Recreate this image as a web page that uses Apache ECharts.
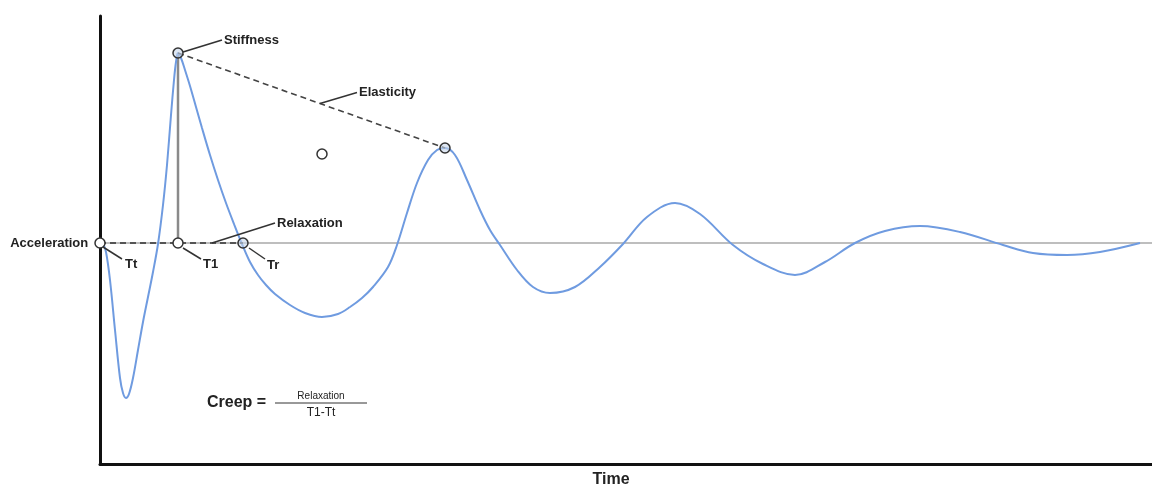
<!DOCTYPE html>
<html>
<head>
<meta charset="utf-8">
<script src="https://cdn.jsdelivr.net/npm/echarts@6/dist/echarts.min.js"></script>
<style>
html,body{margin:0;padding:0;background:#fff;}
#chart{width:1152px;height:486px;}
</style>
</head>
<body>
<div id="chart"></div>
<script>
// ---- data (time units, acceleration units) ----
const time  = [0,3,6,10,15,20,23,26,29,33,
               38,43,48,53,58,63,67,71,74,76,
               78,81,85,90,96,102,110,118,126,134,
               142,150,158,166,175,190,
               205,222,238,250,262,273,288,297,307,317,
               328,337,345,355,367,380,390,400,417,433,
               450,475,500,523,
               547,575,600,633,663,695,725,755,785,820,
               860,903,933,967,1000,1040];
const accel = [0,-1,-9,-37,-87,-135,-150,-155,-151,-135,
               -107,-79,-54,-29,-1,38,78,128,163,181,
               190,185,173,157,136,115,88,63,40,19,
               -1,-19,-32,-42,-51,-62,
               -70,-74,-71,-64,-55,-44,-24,-2,30,60,
               83,93,95,88,63,33,13,-2,-27,-44,
               -50,-44,-24,-1,
               26,40,29,-2,-21,-32,-19,0,12,17,
               11,-2,-10,-12,-9,0];

// key events
const tT = 0;        // Tt
const t1 = 78;       // T1 (stiffness peak time)
const tR = 143;      // Tr
const peak1 = [78, 190];
const peak2 = [345, 95];
const loneMarker = [222, 89];

const markerX = [tT, t1, tR, peak1[0], peak2[0], loneMarker[0]];
const markerY = [0, 0, 0, peak1[1], peak2[1], loneMarker[1]];

const timeMax = 1052;
const accelMin = -221, accelMax = 227;

// annotation labels
const annNames = ['Stiffness', 'Elasticity', 'Relaxation', 'Tt', 'T1', 'Tr'];
const elastX = 220;
const elastY = peak1[1] + (peak2[1] - peak1[1]) * (elastX - peak1[0]) / (peak2[0] - peak1[0]);
const annX = [peak1[0], elastX, 112, tT, t1, tR];
const annY = [peak1[1], elastY, 0, 0, 0, 0];

// ---- styling (pixel offsets of leader lines) ----
const leaderStyle = {
  Stiffness:  {s:[5,-1],  e:[44,-13], t:[46,-13]},
  Elasticity: {s:[0,0],   e:[37,-11], t:[39,-11]},
  Relaxation: {s:[0,0],   e:[63,-20], t:[65,-20]},
  Tt:         {s:[3,4],   e:[22,16],  t:[25,21]},
  T1:         {s:[5,5],   e:[23,16],  t:[25,21]},
  Tr:         {s:[6,5],   e:[22,16],  t:[24,22]}
};

const chart = echarts.init(document.getElementById('chart'));
const textColor = '#222';
const labelFont = 'bold 13px "Liberation Sans"';

const option = {
  animation: false,
  backgroundColor: '#fff',
  grid: {left: 100, right: 0, top: 16, bottom: 22, outerBoundsMode: 'none', containLabel: false},
  xAxis: {
    type: 'value', min: 0, max: timeMax,
    name: 'Time', nameLocation: 'middle', nameGap: 8,
    nameTextStyle: {fontFamily: 'Liberation Sans', fontWeight: 'bold', fontSize: 16, color: textColor, padding: [0, 30, 0, 0]},
    axisLine: {show: true, onZero: false, lineStyle: {color: '#111', width: 3}},
    axisTick: {show: false}, axisLabel: {show: false}, splitLine: {show: false}
  },
  yAxis: {
    type: 'value', min: accelMin, max: accelMax,
    axisLine: {show: true, lineStyle: {color: '#111', width: 3}},
    axisTick: {show: false}, axisLabel: {show: false}, splitLine: {show: false}
  },
  series: [
    { // baseline
      type: 'line', z: 1, silent: true, showSymbol: false,
      data: [[0, 0], [timeMax, 0]],
      lineStyle: {color: '#a8a8a8', width: 1.5}
    },
    { // vertical stiffness line
      type: 'line', z: 2, silent: true, showSymbol: false,
      data: [[t1, 0], peak1],
      lineStyle: {color: '#8a8a8a', width: 2.5}
    },
    { // acceleration curve
      type: 'line', z: 3, showSymbol: false, smooth: 0.35,
      data: time.map((t, i) => [t, accel[i]]),
      lineStyle: {color: '#6f9be0', width: 2}
    },
    { // dashed relaxation line
      type: 'line', z: 4, silent: true, showSymbol: false,
      data: [[tT, 0], [tR, 0]],
      lineStyle: {color: '#333', width: 1.6, type: [6, 4]}
    },
    { // dashed elasticity line
      type: 'line', z: 4, silent: true, showSymbol: false,
      data: [peak1, peak2],
      lineStyle: {color: '#444', width: 1.6, type: [6, 4]}
    },
    { // markers
      type: 'scatter', z: 5, symbol: 'circle', symbolSize: 10,
      data: markerX.map((x, i) => {
        const item = {value: [x, markerY[i]]};
        if (i === 0) {
          item.label = {show: true, position: 'left', distance: 6, formatter: 'Acceleration',
            fontFamily: 'Liberation Sans', fontWeight: 'bold', fontSize: 13, color: textColor, opacity: 1};
        }
        if (i === 2 || i === 3 || i === 4) {
          item.itemStyle = {color: 'rgba(200,215,235,0.6)'};
        }
        return item;
      }),
      itemStyle: {color: '#fff', borderColor: '#333', borderWidth: 1.5, opacity: 1},
      emphasis: {disabled: true}
    },
    { // annotation leaders + labels
      type: 'custom', z: 6, silent: true,
      data: annX.map((x, i) => [x, annY[i], i]),
      renderItem: function (params, api) {
        const p = api.coord([api.value(0), api.value(1)]);
        const name = annNames[api.value(2)];
        const st = leaderStyle[name];
        return {
          type: 'group',
          children: [
            {type: 'line', shape: {x1: p[0] + st.s[0], y1: p[1] + st.s[1], x2: p[0] + st.e[0], y2: p[1] + st.e[1]},
             style: {stroke: '#333', lineWidth: 1.5}},
            {type: 'text', x: p[0] + st.t[0], y: p[1] + st.t[1],
             style: {text: name, fill: textColor, font: labelFont, textAlign: 'left', textVerticalAlign: 'middle'}}
          ]
        };
      }
    }
  ],
  graphic: [
    {type: 'text', left: 207, top: 395, style: {text: 'Creep =', fill: textColor, font: 'bold 16px "Liberation Sans"'}},
    {type: 'line', shape: {x1: 275, y1: 403, x2: 367, y2: 403}, style: {stroke: '#333', lineWidth: 1}},
    {type: 'text', x: 321, y: 396, style: {text: 'Relaxation', fill: textColor, font: '10px "Liberation Sans"', textAlign: 'center', textVerticalAlign: 'middle'}},
    {type: 'text', x: 321, y: 413, style: {text: 'T1-Tt', fill: textColor, font: '12px "Liberation Sans"', textAlign: 'center', textVerticalAlign: 'middle'}}
  ]
};
chart.setOption(option);
</script>
</body>
</html>
